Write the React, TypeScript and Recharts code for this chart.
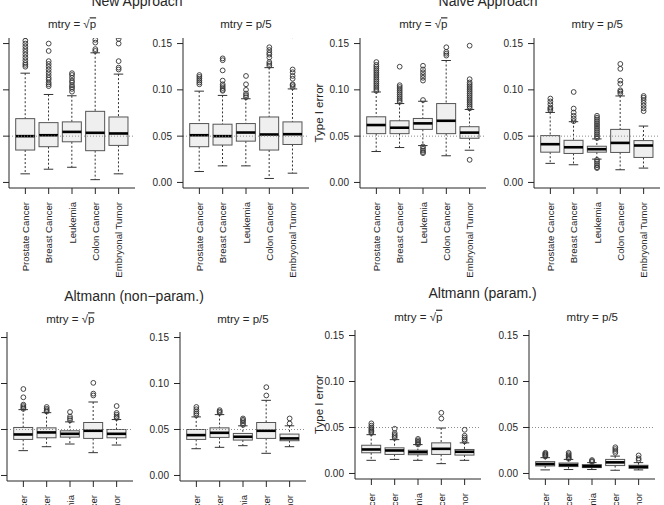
import React from "react";
import { ComposedChart, Bar, Scatter, XAxis, YAxis, ReferenceLine } from "recharts";

const cancers = ["Prostate Cancer", "Breast Cancer", "Leukemia", "Colon Cancer", "Embryonal Tumor"];
const yTicks = [0, 0.05, 0.1, 0.15];
const nominalLevel = 0.05;

// Five-number summaries per cancer type: [lower whisker, Q1, median, Q3, upper whisker]
const newSqrtStats = [
  [0.0093, 0.035, 0.05, 0.0689, 0.118],
  [0.0143, 0.0386, 0.051, 0.0646, 0.095],
  [0.0164, 0.0439, 0.0546, 0.0654, 0.0936],
  [0.003, 0.0343, 0.0536, 0.0768, 0.14],
  [0.0093, 0.04, 0.0529, 0.0707, 0.117],
];
const newSqrtOutliers = [
  [0.125, 0.127, 0.129, 0.132, 0.135, 0.138, 0.141, 0.144, 0.147, 0.15, 0.153, 0.158],
  [0.104, 0.106, 0.108, 0.111, 0.113, 0.116, 0.119, 0.122, 0.125, 0.128, 0.131, 0.142, 0.15],
  [0.098, 0.101, 0.103, 0.105, 0.108, 0.11, 0.113, 0.116, 0.118],
  [0.142, 0.144, 0.151, 0.154, 0.159],
  [0.122, 0.124, 0.131, 0.15, 0.155, 0.158],
];

const newP5Stats = [
  [0.0118, 0.0386, 0.051, 0.0636, 0.0986],
  [0.0179, 0.0404, 0.05, 0.0629, 0.094],
  [0.0179, 0.0446, 0.0539, 0.0636, 0.0904],
  [0.0043, 0.035, 0.0518, 0.0707, 0.124],
  [0.01, 0.041, 0.0521, 0.0654, 0.101],
];
const newP5Outliers = [
  [0.106, 0.108, 0.11, 0.112, 0.114, 0.116],
  [0.099, 0.1, 0.102, 0.104, 0.106, 0.11, 0.121, 0.132, 0.134],
  [0.092, 0.094, 0.096, 0.1, 0.106, 0.115],
  [0.126, 0.128, 0.13, 0.135, 0.138, 0.14, 0.143, 0.146],
  [0.103, 0.105, 0.106, 0.112, 0.115, 0.119, 0.122, 0.159],
];

const naiveSqrtStats = [
  [0.0334, 0.0527, 0.062, 0.0709, 0.0977],
  [0.0377, 0.0527, 0.0591, 0.0666, 0.0852],
  [0.0398, 0.0573, 0.0638, 0.0691, 0.0877],
  [0.0288, 0.0527, 0.0666, 0.0852, 0.1317],
  [0.0348, 0.0477, 0.0538, 0.0602, 0.0788],
];
const naiveSqrtOutliers = [
  [0.099, 0.101, 0.103, 0.105, 0.107, 0.109, 0.111, 0.113, 0.115, 0.117, 0.119, 0.121, 0.123, 0.125, 0.127, 0.13],
  [0.087, 0.089, 0.091, 0.093, 0.095, 0.097, 0.099, 0.101, 0.103, 0.105, 0.125],
  [0.0388, 0.0365, 0.0345, 0.0328, 0.0316, 0.089, 0.11, 0.113, 0.116, 0.119, 0.122, 0.126],
  [0.137, 0.139, 0.141, 0.146],
  [0.0244, 0.08, 0.082, 0.084, 0.086, 0.088, 0.09, 0.092, 0.094, 0.096, 0.098, 0.1, 0.102, 0.104, 0.106, 0.108, 0.1115, 0.1477],
];

const naiveP5Stats = [
  [0.0206, 0.0327, 0.0413, 0.0506, 0.0756],
  [0.0191, 0.0313, 0.038, 0.0455, 0.0656],
  [0.0252, 0.0327, 0.0359, 0.0391, 0.047],
  [0.0137, 0.0324, 0.0427, 0.0573, 0.0934],
  [0.0155, 0.027, 0.0399, 0.0452, 0.0609],
];
const naiveP5Outliers = [
  [0.078, 0.0795, 0.081, 0.0845, 0.0875, 0.0906],
  [0.0662, 0.069, 0.072, 0.0755, 0.0798, 0.0977],
  [0.048, 0.05, 0.052, 0.054, 0.056, 0.058, 0.06, 0.062, 0.064, 0.066, 0.068, 0.07, 0.072, 0.0244, 0.0225, 0.0205, 0.0185, 0.0165, 0.0155],
  [0.096, 0.098, 0.0995, 0.1066, 0.11, 0.1227, 0.128],
  [0.077, 0.08, 0.083, 0.086, 0.089, 0.0915, 0.0934],
];

const altNonParSqrtStats = [
  [0.027, 0.0392, 0.0446, 0.0522, 0.0716],
  [0.0313, 0.041, 0.0468, 0.0518, 0.0683],
  [0.0342, 0.0417, 0.0453, 0.0486, 0.0583],
  [0.0248, 0.0403, 0.0486, 0.0576, 0.0799],
  [0.0331, 0.041, 0.0453, 0.05, 0.0608],
];
const altNonParSqrtOutliers = [
  [0.0725, 0.074, 0.0755, 0.077, 0.085, 0.094],
  [0.0695, 0.071, 0.0725, 0.0745],
  [0.06, 0.062, 0.064, 0.069],
  [0.087, 0.089, 0.1007],
  [0.0625, 0.064, 0.066, 0.068, 0.0755],
];

const altNonParP5Stats = [
  [0.0291, 0.0392, 0.0439, 0.05, 0.0637],
  [0.0306, 0.0414, 0.0464, 0.0518, 0.0662],
  [0.0324, 0.0385, 0.0421, 0.0457, 0.054],
  [0.0241, 0.0403, 0.0486, 0.0576, 0.0817],
  [0.0313, 0.0378, 0.0403, 0.045, 0.054],
];
const altNonParP5Outliers = [
  [0.0655, 0.0675, 0.0695, 0.072, 0.0745],
  [0.068, 0.0695, 0.071],
  [0.055, 0.057, 0.059, 0.0605, 0.062],
  [0.087, 0.096],
  [0.0565, 0.062],
];

const altParSqrtStats = [
  [0.0143, 0.0225, 0.0261, 0.0307, 0.0422],
  [0.0153, 0.0207, 0.025, 0.0279, 0.0368],
  [0.0143, 0.0204, 0.0232, 0.0253, 0.0314],
  [0.0107, 0.0207, 0.0268, 0.0333, 0.0494],
  [0.0143, 0.02, 0.0236, 0.0261, 0.0333],
];
const altParSqrtOutliers = [
  [0.044, 0.0455, 0.047, 0.0485, 0.05, 0.052, 0.0545],
  [0.0386, 0.0405, 0.042, 0.044, 0.0486],
  [0.0316, 0.033, 0.0345, 0.036, 0.0376],
  [0.0597, 0.066],
  [0.035, 0.037, 0.039, 0.041, 0.0475],
];

const altParP5Stats = [
  [0.0039, 0.0082, 0.0103, 0.0129, 0.0172],
  [0.0043, 0.0075, 0.0092, 0.0114, 0.0153],
  [0.0043, 0.0064, 0.0078, 0.0097, 0.0118],
  [0.0035, 0.0086, 0.0121, 0.0153, 0.0189],
  [0.0039, 0.0057, 0.0071, 0.0089, 0.0118],
];
const altParP5Outliers = [
  [0.0185, 0.0195, 0.0205, 0.0215, 0.0225],
  [0.016, 0.017, 0.018, 0.0195, 0.021, 0.0225],
  [0.0125, 0.0135, 0.0146],
  [0.0225, 0.0245, 0.0265, 0.0285],
  [0.0146, 0.0165, 0.0196],
];

const groupTitles = ["New Approach", "Naive Approach", "Altmann (non\u2212param.)", "Altmann (param.)"];

// Placement of each panel's plotting region on the page
const PLOT_W = 126;
const layout = [
  { stats: newSqrtStats, outliers: newSqrtOutliers, sqrt: true, left: 9, top: 38, h: 150, subY: 28.3, ylab: -28 },
  { stats: newP5Stats, outliers: newP5Outliers, sqrt: false, left: 183, top: 38, h: 150, subY: 28.3 },
  { stats: naiveSqrtStats, outliers: naiveSqrtOutliers, sqrt: true, left: 360.3, top: 38, h: 150, subY: 28.3, ylab: 323 },
  { stats: naiveP5Stats, outliers: naiveP5Outliers, sqrt: false, left: 534.3, top: 38, h: 150, subY: 28.3 },
  { stats: altNonParSqrtStats, outliers: altNonParSqrtOutliers, sqrt: true, left: 7.3, top: 331.5, h: 149, subY: 323.3, ylab: -30 },
  { stats: altNonParP5Stats, outliers: altNonParP5Outliers, sqrt: false, left: 180, top: 331.5, h: 149, subY: 323.3 },
  { stats: altParSqrtStats, outliers: altParSqrtOutliers, sqrt: true, left: 355.3, top: 330, h: 149, subY: 320.7, ylab: 323 },
  { stats: altParP5Stats, outliers: altParP5Outliers, sqrt: false, left: 529.3, top: 330, h: 149, subY: 320.7 },
];
const titlePos = [
  { x: 137, y: 6 },
  { x: 488, y: 6 },
  { x: 134, y: 300.7 },
  { x: 482.6, y: 298 },
];

const FONT = "'Liberation Sans', Arial, Helvetica, sans-serif";
const INK = "#262626";
const CHART_LEFT = 50;
const CHART_TOP = 10;
const X_AXIS_H = 110;

function BoxShape(props: any) {
  const { x, y, width, height, payload } = props;
  if (x == null || y == null || !payload) return null;
  const { low, q1, med, q3, high } = payload;
  const top = Math.min(y, y + height);
  const bottom = Math.max(y, y + height);
  const span = high - low;
  const toY = (v: number) => top + ((bottom - top) * (high - v)) / span;
  const cx = x + width / 2;
  const cap = width / 4;
  const yQ1 = toY(q1);
  const yQ3 = toY(q3);
  return (
    <g>
      <line x1={cx} x2={cx} y1={toY(high)} y2={yQ3} stroke="#333" strokeWidth={1} strokeDasharray="2 2" />
      <line x1={cx} x2={cx} y1={yQ1} y2={toY(low)} stroke="#333" strokeWidth={1} strokeDasharray="2 2" />
      <line x1={cx - cap} x2={cx + cap} y1={toY(high)} y2={toY(high)} stroke="#333" strokeWidth={1} />
      <line x1={cx - cap} x2={cx + cap} y1={toY(low)} y2={toY(low)} stroke="#333" strokeWidth={1} />
      <rect x={x} y={yQ3} width={width} height={yQ1 - yQ3} fill="#efefef" stroke="#555" strokeWidth={1} />
      <line x1={x} x2={x + width} y1={toY(med)} y2={toY(med)} stroke="#000" strokeWidth={2.6} />
    </g>
  );
}

function OutlierDot(props: any) {
  const { cx, cy } = props;
  if (cx == null || cy == null) return null;
  return <circle cx={cx} cy={cy} r={2.4} fill="none" stroke="#333" strokeWidth={0.9} />;
}

function CancerTick(props: any) {
  const { x, y, payload } = props;
  const ty = y + 4;
  return (
    <text
      x={x}
      y={ty}
      transform={`rotate(-90, ${x}, ${ty})`}
      textAnchor="end"
      dominantBaseline="central"
      fontSize={9.6}
      fontFamily={FONT}
      fill={INK}
    >
      {payload.value}
    </text>
  );
}

function BoxPanel({ stats, outliers, h }: { stats: number[][]; outliers: number[][]; h: number }) {
  const rows = cancers.map((name, i) => {
    const [low, q1, med, q3, high] = stats[i];
    return { name, range: [low, high], low, q1, med, q3, high };
  });
  const points = outliers.flatMap((vals, i) => vals.map((value) => ({ name: cancers[i], value })));
  return (
    <ComposedChart
      width={CHART_LEFT + PLOT_W + 10}
      height={CHART_TOP + h + X_AXIS_H}
      data={rows}
      margin={{ top: CHART_TOP, right: 10, left: 0, bottom: 0 }}
    >
      <XAxis
        dataKey="name"
        type="category"
        allowDuplicatedCategory={false}
        interval={0}
        height={X_AXIS_H}
        padding={{ left: 4.7, right: 4.7 }}
        tickSize={6}
        tickMargin={4}
        tick={<CancerTick />}
        axisLine={{ stroke: INK }}
        tickLine={{ stroke: INK }}
      />
      <YAxis
        type="number"
        domain={[-0.006, 0.156]}
        ticks={yTicks}
        allowDataOverflow
        width={CHART_LEFT}
        tickSize={6}
        tickMargin={5}
        tickFormatter={(v: number) => v.toFixed(2)}
        tick={{ fontSize: 10, fontFamily: FONT, fill: INK }}
        axisLine={{ stroke: INK }}
        tickLine={{ stroke: INK }}
      />
      <ReferenceLine y={nominalLevel} stroke="#8c8c8c" strokeDasharray="1 2" />
      <Bar dataKey="range" barSize={19} shape={<BoxShape />} isAnimationActive={false} />
      <Scatter data={points} dataKey="value" shape={<OutlierDot />} isAnimationActive={false} />
    </ComposedChart>
  );
}

export default function App() {
  return (
    <div
      style={{
        position: "absolute",
        left: 0,
        top: 0,
        width: 664,
        height: 505,
        overflow: "hidden",
        background: "#fff",
        fontFamily: FONT,
      }}
    >
      {layout.map((p, i) => (
        <div key={i} style={{ position: "absolute", left: p.left - CHART_LEFT, top: p.top - CHART_TOP }}>
          <BoxPanel stats={p.stats} outliers={p.outliers} h={p.h} />
        </div>
      ))}
      <svg width={664} height={505} style={{ position: "absolute", left: 0, top: 0, pointerEvents: "none" }}>
        {groupTitles.map((t, i) => (
          <text key={t} x={titlePos[i].x} y={titlePos[i].y} textAnchor="middle" fontSize={14} fontFamily={FONT} fill={INK}>
            {t}
          </text>
        ))}
        {layout.map((p, i) => (
          <text key={`s${i}`} x={p.left + PLOT_W / 2} y={p.subY} textAnchor="middle" fontSize={11.5} fontFamily={FONT} fill={INK}>
            {p.sqrt ? (
              <>
                <tspan>mtry = √</tspan>
                <tspan style={{ textDecoration: "overline" }}>p</tspan>
              </>
            ) : (
              "mtry = p/5"
            )}
          </text>
        ))}
        {layout.map((p, i) =>
          p.ylab === undefined ? null : (
            <text
              key={`y${i}`}
              transform={`translate(${p.ylab}, ${p.top + p.h / 2}) rotate(-90)`}
              textAnchor="middle"
              fontSize={11.5}
              fontFamily={FONT}
              fill={INK}
            >
              Type I error
            </text>
          )
        )}
      </svg>
    </div>
  );
}
